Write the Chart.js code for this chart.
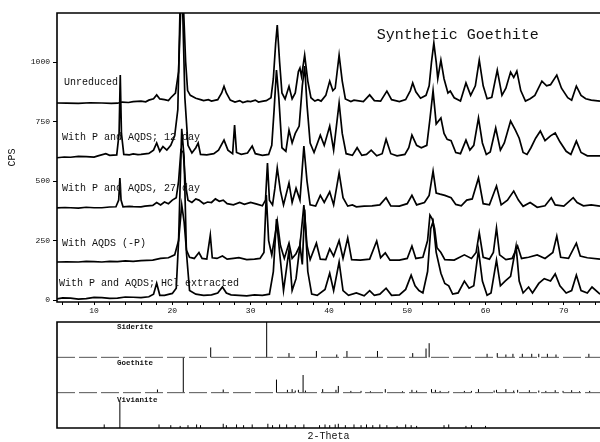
<!DOCTYPE html>
<html lang="en">
  <head>
    <meta charset="UTF-8" />
    <title>Synthetic Goethite XRD</title>
    <script src="https://cdn.jsdelivr.net/npm/chart.js"></script>
    <style>
      html, body { margin: 0; padding: 0; background: #fff; }
      #wrap { position: relative; width: 600px; height: 442px; overflow: hidden; }
      #top { position: absolute; left: 0; top: 0; }
      #bottom { position: absolute; left: 0; top: 318px; }
    </style>
  </head>
  <body>
    <div id="wrap">
      <canvas id="top" width="600" height="318"></canvas>
      <canvas id="bottom" width="600" height="124"></canvas>
    </div>

    <script>
      // 2-theta range visible in the picture
      const thetaMin = 5.27;
      const thetaMax = 74.62;

      // traces as [2-theta, CPS]
      const unreduced = [
        [5.27,828],[6.5,827],[8,826],[9.5,829],[11,828],[12.2,826],[13,827],[13.6,832],[14.4,830],[15,834],[16,836],[16.6,833],[17,840],
        [17.6,846],[18.0,862],[18.4,845],[19,842],[19.5,838],[19.8,850],[20.4,870],[20.8,960],[21.1,1250],[21.4,1250],[21.7,1000],
        [21.95,880],[22.3,860],[23,848],[23.6,842],[24,838],[24.6,842],[25,836],[25.8,842],[26.3,870],[26.6,898],[26.9,870],[27.4,840],
        [28,832],[28.6,838],[29,830],[29.6,836],[30,834],[30.6,840],[31,832],[31.6,836],[32,838],[32.6,850],[32.9,930],[33.2,1080],
        [33.4,1155],[33.7,1000],[34.0,870],[34.4,845],[34.9,898],[35.3,845],[35.7,870],[36.1,960],[36.3,975],[36.5,940],[36.9,1029],
        [37.3,920],[37.7,850],[38.2,836],[38.6,842],[39,836],[39.6,860],[40.1,920],[40.5,880],[40.8,890],[41.3,1029],[41.7,920],
        [42.1,845],[42.8,834],[43.2,840],[43.6,838],[44.4,834],[45.2,862],[45.8,838],[46.6,836],[47.4,878],[48,842],[48.5,838],
        [49,834],[49.8,842],[50.4,880],[50.7,912],[51.1,875],[51.7,848],[52.4,860],[52.8,900],[53.1,1000],[53.4,1080],[53.7,1000],
        [53.9,930],[54.3,1008],[54.7,930],[55.2,870],[55.5,878],[56,850],[56.8,836],[57.5,912],[58.1,860],[58.7,900],[59.2,1008],
        [59.7,900],[60.2,846],[60.8,852],[61.5,966],[62.1,860],[62.6,890],[63.2,958],[63.6,935],[64.0,962],[64.5,880],[65.1,836],
        [65.7,846],[66.3,860],[67.2,920],[67.8,900],[68.3,905],[69.1,945],[69.7,890],[70.5,850],[71.0,840],[71.6,899],[72.2,860],
        [72.8,846],[73.5,840],[74.62,836]
      ];
      const day12 = [
        [5.27,598],[6.2,601],[7,600],[8,604],[9,603],[10,601],[10.5,606],[11.5,615],[12,608],[12.9,610],[13.2,700],[13.35,945],
        [13.5,700],[13.8,612],[14.5,610],[15,614],[15.6,611],[16,612],[17,616],[17.6,630],[18.0,660],[18.4,625],[18.8,645],
        [19.3,630],[19.8,650],[20.3,690],[20.7,800],[21.0,1250],[21.3,1250],[21.6,850],[22.0,650],[22.5,618],[23.0,640],[23.3,660],
        [23.6,612],[24.4,610],[25.3,615],[25.9,630],[26.6,672],[27.1,630],[27.7,615],[27.95,735],[28.2,620],[28.8,612],[29.6,618],
        [30.2,647],[30.6,615],[31.5,608],[32.3,612],[32.7,650],[33.0,800],[33.3,966],[33.6,850],[34.0,640],[34.5,625],[34.9,714],
        [35.3,660],[35.7,700],[36.2,731],[36.6,900],[36.9,983],[37.2,820],[37.6,660],[38.1,620],[38.9,693],[39.4,650],[40.1,731],
        [40.6,630],[41.3,828],[41.7,700],[42.2,615],[43.0,608],[43.6,640],[44.2,608],[44.8,612],[45.4,630],[46.1,606],[46.8,615],
        [47.3,676],[47.9,615],[48.7,606],[49.7,612],[50.2,640],[50.6,693],[51.2,650],[51.8,640],[52.5,650],[52.9,760],[53.3,880],
        [53.7,740],[54.3,765],[54.7,700],[55.1,675],[55.6,670],[56.2,620],[56.8,615],[57.5,672],[58.0,630],[58.5,650],[59.1,765],
        [59.6,660],[60.1,612],[60.6,622],[61.3,723],[61.9,630],[62.4,660],[63.2,752],[63.8,715],[64.3,680],[64.8,620],[65.3,612],
        [65.8,640],[66.4,680],[67.0,710],[67.6,670],[68.3,690],[68.9,702],[69.5,665],[70.3,625],[70.9,612],[71.6,668],[72.2,620],
        [73.0,606],[74.62,606]
      ];
      const day27 = [
        [5.27,387],[6.3,389],[7,388],[8,386],[9,390],[10,388],[11,388],[12,391],[12.8,392],[13.15,420],[13.3,513],[13.45,420],
        [13.7,392],[14.5,394],[15,393],[16,392],[16.5,395],[17.5,398],[18.0,410],[18.5,400],[19,412],[19.5,405],[20.0,420],[20.5,430],
        [20.8,500],[21.1,630],[21.4,620],[21.7,480],[22.0,420],[22.5,410],[23.0,425],[23.4,420],[24,405],[24.5,412],[25,410],
        [25.5,425],[26,415],[26.5,420],[27,405],[27.8,400],[28.6,410],[29.2,402],[30,410],[30.8,403],[31.5,396],[31.9,420],
        [32.15,576],[32.4,420],[32.8,400],[33.1,470],[33.4,555],[33.8,460],[34.2,400],[34.9,492],[35.3,410],[35.8,470],[36.3,420],
        [36.8,647],[37.2,500],[37.6,400],[38.3,395],[38.9,440],[39.4,410],[40.1,455],[40.6,400],[41.3,534],[41.8,430],[42.4,395],
        [43.0,400],[43.5,392],[44.5,395],[45.5,396],[46.5,400],[47.3,430],[47.9,396],[49,395],[50.0,405],[50.6,440],[51.2,400],
        [52.2,410],[52.8,440],[53.3,542],[53.7,450],[54.2,445],[54.8,440],[55.6,430],[56.2,402],[56.9,396],[57.6,420],[58.3,425],
        [59.1,513],[59.7,405],[60.5,400],[61.4,479],[62.0,400],[62.8,420],[63.6,458],[64.2,420],[64.8,394],[65.7,410],[66.6,390],
        [67.6,396],[68.4,430],[68.9,400],[70.0,395],[71.2,430],[71.7,410],[72.5,396],[73.5,400],[74.62,395]
      ];
      const aqdsNoP = [
        [5.27,160],[6.5,161],[8,160],[9,163],[10,162],[11,160],[12,163],[13,162],[14,165],[15,163],[16,166],[17.5,168],[18.5,175],
        [19.5,178],[20.3,190],[20.8,250],[21.2,400],[21.5,330],[21.8,210],[22.2,180],[22.8,175],[23.4,200],[23.8,175],[24.4,172],
        [24.85,273],[25.1,178],[25.7,175],[26.4,185],[27,172],[27.8,175],[28.5,178],[29.5,170],[30.5,172],[31.2,175],[31.7,200],
        [32.0,441],[32.3,250],[32.7,190],[33.1,270],[33.4,332],[33.8,230],[34.3,175],[34.9,239],[35.3,175],[35.8,195],[36.3,230],
        [36.8,399],[37.2,230],[37.6,170],[38.4,239],[38.9,172],[39.6,170],[40.1,215],[40.6,185],[41.3,250],[41.8,175],[42.4,261],
        [42.9,170],[44,168],[45.2,172],[46.1,248],[46.6,178],[47.2,198],[47.8,168],[49,168],[50.0,175],[50.6,227],[51.1,175],
        [52.0,180],[52.6,250],[52.9,357],[53.2,340],[53.5,300],[53.8,220],[54.3,200],[54.8,170],[56,168],[57.3,190],[58.2,175],
        [58.8,200],[59.2,282],[59.7,180],[60.5,172],[61.0,200],[61.4,303],[61.8,190],[62.6,170],[63.4,175],[64.1,227],[64.6,175],
        [65.5,180],[66.6,190],[67.6,175],[68.6,200],[69.1,269],[69.6,180],[70.6,175],[71.6,239],[72.1,185],[73,178],[74.62,172]
      ];
      const hclExtracted = [
        [5.27,5],[6,9],[7,8],[8,4],[9,6],[10,11],[11,10],[12,7],[13,8],[14,13],[15,12],[16,10],[17,14],[17.6,25],[18.0,71],[18.4,20],
        [19,20],[20,28],[20.5,50],[20.8,250],[21.2,720],[21.5,600],[21.8,200],[22.2,40],[23,25],[24,20],[25,22],[25.8,30],[26.4,55],
        [26.9,30],[27.5,22],[28.5,20],[29.5,18],[30.5,22],[31.5,20],[32.4,25],[32.9,120],[33.3,340],[33.7,200],[34.2,40],[34.9,210],
        [35.3,40],[35.8,90],[36.3,230],[36.6,150],[36.9,380],[37.3,120],[37.8,25],[38.5,20],[39.5,45],[40.1,113],[40.6,40],
        [41.3,160],[41.8,40],[42.5,20],[43.5,30],[44.5,18],[45.2,40],[45.8,20],[46.5,25],[47.3,50],[48,20],[49,22],[49.8,45],
        [50.5,105],[51,60],[51.5,40],[52,30],[52.6,120],[53.0,300],[53.3,330],[53.7,200],[54.3,113],[54.8,70],[55.3,60],[55.8,25],
        [56.5,30],[57.3,80],[57.9,50],[58.5,60],[59.1,210],[59.6,80],[60.2,20],[60.7,30],[61.4,168],[61.9,60],[62.5,80],[63.2,100],
        [63.9,227],[64.3,80],[64.8,30],[65.5,55],[66.0,30],[66.8,70],[67.5,90],[68.3,80],[68.9,110],[69.5,60],[70.3,30],[71.0,40],
        [71.6,105],[72.2,40],[73,30],[73.6,55],[74.62,25]
      ];

      // reference patterns: stick positions and relative heights
      const sideritePos = [24.9,32.05,34.9,38.4,41.0,42.3,46.2,50.7,52.4,52.8,60.2,61.5,62.6,63.5,64.7,65.9,66.8,67.9,69.0,73.2];
      const sideriteInt = [0.28,1.0,0.12,0.18,0.08,0.18,0.18,0.12,0.25,0.4,0.1,0.12,0.08,0.1,0.1,0.1,0.1,0.1,0.08,0.1];
      const goethitePos = [18.1,21.4,26.5,33.3,34.7,35.3,35.7,36.1,36.7,37.0,39.2,40.9,41.2,42.8,44.1,45.3,47.2,49.4,50.6,51.2,
        53.1,53.6,54.2,55.3,57.3,58.2,59.1,61.1,61.4,62.6,63.6,64.1,65.6,66.8,67.7,68.9,69.9,71.0,72.0,73.3];
      const goethiteInt = [0.09,1.0,0.09,0.37,0.08,0.1,0.06,0.08,0.5,0.06,0.1,0.08,0.19,0.05,0.05,0.04,0.1,0.04,0.08,0.06,
        0.1,0.08,0.05,0.04,0.05,0.05,0.1,0.06,0.08,0.1,0.06,0.08,0.07,0.06,0.05,0.07,0.05,0.07,0.04,0.05];
      const vivianitePos = [11.3,13.3,18.3,19.8,21.0,22.0,23.1,23.6,26.5,26.9,28.2,29.1,30.2,32.2,32.8,33.7,34.6,35.7,36.8,38.8,
        39.5,40.1,40.8,41.2,42.1,43.2,44.1,44.8,45.6,46.5,47.4,48.7,49.8,50.5,51.2,54.7,55.3,57.5,58.2,60.0];
      const vivianiteInt = [0.1,0.75,0.1,0.08,0.06,0.08,0.1,0.08,0.12,0.08,0.1,0.08,0.1,0.12,0.08,0.1,0.1,0.08,0.1,0.08,
        0.1,0.08,0.1,0.12,0.08,0.1,0.08,0.1,0.08,0.1,0.08,0.06,0.1,0.08,0.06,0.08,0.1,0.06,0.08,0.06];

      // panel labels, placed in data coordinates
      const topLabels = [
        { text: 'Synthetic Goethite', x: 46.1, y: 1113, size: 15 },
        { text: 'Unreduced', x: 6.16, y: 916, size: 10 },
        { text: 'With P and AQDS; 12 day', x: 5.91, y: 685, size: 10 },
        { text: 'With P and AQDS, 27 day', x: 5.91, y: 471, size: 10 },
        { text: 'With AQDS (-P)', x: 5.91, y: 239, size: 10 },
        { text: 'With P and AQDS; HCl extracted', x: 5.53, y: 71, size: 10 }
      ];
      const bottomLabels = [
        { text: 'Siderite', x: 12.94, y: 2.86, size: 7.5 },
        { text: 'Goethite', x: 12.94, y: 1.84, size: 7.5 },
        { text: 'Vivianite', x: 12.94, y: 0.79, size: 7.5 }
      ];

      const MONO = '"Liberation Mono", "DejaVu Sans Mono", monospace';
      const pts = arr => arr.map(p => ({ x: p[0], y: p[1] }));

      function sticks(pos, ints, base) {
        const out = [];
        pos.forEach((t, i) => {
          out.push({ x: t, y: base }, { x: t, y: base + ints[i] }, { x: t, y: null });
        });
        return out;
      }

      // frame (left, top, bottom) and text labels
      const framePlugin = {
        id: 'frame',
        afterDatasetsDraw(chart, args, opts) {
          const { ctx, chartArea: a, scales } = chart;
          ctx.save();
          ctx.strokeStyle = '#000';
          ctx.lineWidth = 1.6;
          ctx.beginPath();
          ctx.moveTo(a.right, a.top);
          ctx.lineTo(a.left, a.top);
          ctx.lineTo(a.left, a.bottom);
          ctx.lineTo(a.right, a.bottom);
          ctx.stroke();
          ctx.fillStyle = '#111';
          ctx.textBaseline = 'middle';
          ctx.textAlign = 'left';
          (opts.labels || []).forEach(l => {
            ctx.font = (l.size < 9 ? 'bold ' : '') + l.size + 'px ' + MONO;
            ctx.fillText(l.text, scales.x.getPixelForValue(l.x), scales.y.getPixelForValue(l.y));
          });
          ctx.restore();
        }
      };

      const traceStyle = { borderColor: '#000', borderWidth: 1.7, pointRadius: 0, fill: false, tension: 0 };

      new Chart(document.getElementById('top'), {
        type: 'line',
        data: {
          datasets: [unreduced, day12, day27, aqdsNoP, hclExtracted].map(d => Object.assign({ data: pts(d) }, traceStyle))
        },
        options: {
          responsive: false,
          animation: false,
          devicePixelRatio: 1,
          layout: { padding: { top: 13, left: 0, right: 0, bottom: 0 } },
          plugins: { legend: { display: false }, tooltip: { enabled: false }, frame: { labels: topLabels } },
          scales: {
            x: {
              type: 'linear',
              min: thetaMin,
              max: thetaMax,
              afterBuildTicks: axis => {
                const t = [];
                for (let v = 6; v <= 74; v += 2) t.push({ value: v });
                axis.ticks = t;
              },
              afterFit: axis => { axis.height = 16; },
              border: { display: false },
              grid: { drawOnChartArea: false, tickLength: 3, color: '#000', lineWidth: 1 },
              ticks: {
                autoSkip: false,
                maxRotation: 0,
                padding: 1,
                color: '#111',
                font: { family: MONO, size: 8 },
                callback: v => (v % 10 === 0 ? String(v) : '')
              }
            },
            y: {
              min: -8,
              max: 1206,
              afterBuildTicks: axis => {
                axis.ticks = [0, 250, 500, 750, 1000].map(v => ({ value: v }));
              },
              afterFit: axis => { axis.width = 57; },
              border: { display: false },
              grid: { drawOnChartArea: false, tickLength: 4, color: '#000', lineWidth: 1 },
              ticks: { padding: 3, color: '#111', font: { family: MONO, size: 8 }, callback: v => String(v) },
              title: { display: true, text: 'CPS', color: '#111', font: { family: MONO, size: 10 }, padding: { top: 6, bottom: 0 } }
            }
          }
        },
        plugins: [framePlugin]
      });

      const stickStyle = { borderColor: '#000', borderWidth: 1, pointRadius: 0, fill: false, spanGaps: false, tension: 0 };
      const baseStyle = { borderColor: '#555', borderWidth: 1, pointRadius: 0, fill: false, borderDash: [18, 4] };

      new Chart(document.getElementById('bottom'), {
        type: 'line',
        data: {
          datasets: [
            Object.assign({ data: [{ x: thetaMin, y: 2 }, { x: thetaMax, y: 2 }] }, baseStyle),
            Object.assign({ data: [{ x: thetaMin, y: 1 }, { x: thetaMax, y: 1 }] }, baseStyle),
            Object.assign({ data: sticks(sideritePos, sideriteInt, 2) }, stickStyle),
            Object.assign({ data: sticks(goethitePos, goethiteInt, 1) }, stickStyle),
            Object.assign({ data: sticks(vivianitePos, vivianiteInt, 0) }, stickStyle)
          ]
        },
        options: {
          responsive: false,
          animation: false,
          devicePixelRatio: 1,
          layout: { padding: { top: 4, left: 0, right: 0, bottom: 0 } },
          plugins: { legend: { display: false }, tooltip: { enabled: false }, frame: { labels: bottomLabels } },
          scales: {
            x: {
              type: 'linear',
              min: thetaMin,
              max: thetaMax,
              afterFit: axis => { axis.height = 14; },
              border: { display: false },
              grid: { display: false },
              ticks: { display: false },
              title: { display: true, text: '2-Theta', color: '#111', font: { family: MONO, size: 10 }, padding: { top: 0, bottom: 0 } }
            },
            y: {
              min: 0,
              max: 3,
              afterFit: axis => { axis.width = 57; },
              border: { display: false },
              grid: { display: false },
              ticks: { display: false }
            }
          }
        },
        plugins: [framePlugin]
      });
    </script>
  </body>
</html>
